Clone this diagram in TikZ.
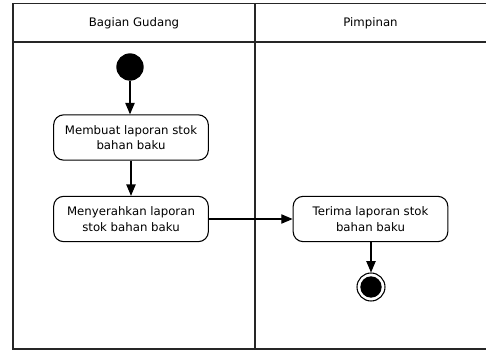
\documentclass[tikz,border=0pt]{standalone}
\usepackage{fontspec}
\setmainfont{DejaVu Sans}
\usetikzlibrary{arrows.meta}
\begin{document}
\begin{tikzpicture}[x=0.75pt,y=-0.75pt,
  font=\fontsize{8.8pt}{11.6pt}\selectfont,
  lane/.style={line width=1pt,draw=black!85},
  action/.style={draw=black, line width=0.8pt, rounded corners=7.5pt, fill=white,
    minimum width=116pt, minimum height=34pt, align=center, inner sep=2pt},
  flow/.style={line width=0.8pt, -{Triangle[length=8.5pt,width=7pt]}},
  startnode/.style={circle, fill=black, minimum size=20.5pt, inner sep=0pt},
  endnode/.style={circle, draw=black, line width=0.8pt, fill=white, minimum size=21pt, inner sep=0pt}
]
\useasboundingbox (0,0) rectangle (486,351);

% swimlane frame
\draw[lane] (487,3.5) -- (13,3.5) -- (13,349) -- (487,349);
\draw[lane] (13,42) -- (487,42);
\draw[lane] (255,3.5) -- (255,349);
\node (laneA) at (134,23) {Bagian Gudang};
\node (laneB) at (370.5,23) {Pimpinan};

% activity nodes
\node[startnode] (start) at (130,67) {};
\node[action] (buat) at (131,137.5) {Membuat laporan stok\\bahan baku};
\node[action] (serah) at (131,219) {Menyerahkan laporan\\stok bahan baku};
\node[action] (terima) at (370.5,219) {Terima laporan stok\\bahan baku};
\node[endnode] (end) at (371,287) {};
\fill (end.center) circle (8pt);

% control flow
\draw[flow] (start) -- (start |- buat.north);
\draw[flow] (buat) -- (buat |- serah.north);
\draw[flow] (serah) -- (terima);
\draw[flow] (terima.south -| end) -- (end);
\end{tikzpicture}
\end{document}
